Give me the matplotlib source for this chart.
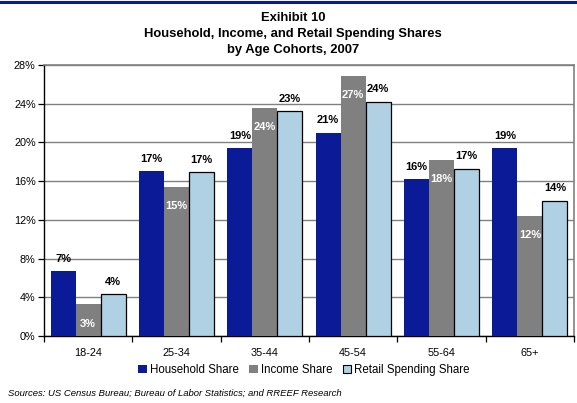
import numpy as np
import matplotlib
matplotlib.use("Agg")
import matplotlib.pyplot as plt
from matplotlib.lines import Line2D
from matplotlib.patches import Patch

plt.rcParams["font.family"] = ["Liberation Sans", "DejaVu Sans"]

cohorts = ["18-24", "25-34", "35-44", "45-54", "55-64", "65+"]
household = [6.7, 17.0, 19.4, 21.0, 16.2, 19.4]
income = [3.3, 15.4, 23.6, 26.9, 18.2, 12.4]
retail = [4.3, 16.9, 23.2, 24.2, 17.3, 14.0]
series_names = ["Household Share", "Income Share", "Retail Spending Share"]
yticks = [0, 4, 8, 12, 16, 20, 24, 28]

colors = ["#0B1A96", "#808080", "#AFD1E3"]

fig = plt.figure(figsize=(5.77, 4.03), dpi=100)
ax = fig.add_axes([44 / 577, 1 - 336 / 403, 530 / 577, 271 / 403])

# thin rule across the top of the page
fig.add_artist(Line2D([0, 1], [1 - 1.5 / 403] * 2, color="#0B1A96", lw=2.2,
                      transform=fig.transFigure))

x = np.arange(len(cohorts))
w = 0.283
b1 = ax.bar(x - w, household, w, color=colors[0], zorder=3)
b2 = ax.bar(x, income, w, color=colors[1], zorder=3)
b3 = ax.bar(x + w, retail, w, color=colors[2], edgecolor="black", lw=0.9, zorder=3)

for bars, vals, inside in [(b1, household, False), (b2, income, True), (b3, retail, False)]:
    for r, v in zip(bars, vals):
        cx = r.get_x() + r.get_width() / 2
        if inside:
            ax.annotate(f"{v:.0f}%", (cx, v), xytext=(0, -14), textcoords="offset points",
                        ha="center", va="center", fontsize=8, fontweight="bold",
                        color="white", zorder=4)
        else:
            ax.annotate(f"{v:.0f}%", (cx, v), xytext=(0, 9), textcoords="offset points",
                        ha="center", va="center", fontsize=8, fontweight="bold",
                        color="black", zorder=4)

ax.set_xlim(-0.5, len(cohorts) - 0.5)
ax.set_ylim(0, 28)
ax.set_yticks(yticks)
ax.set_yticklabels([f"{t}%" for t in yticks], fontsize=7.8)
ax.yaxis.grid(True, color="#808080", lw=1, zorder=0)
ax.tick_params(axis="y", direction="out", length=4, width=0.9, pad=2)

ax.set_xticks(x)
ax.set_xticklabels(cohorts, fontsize=7.8)
ax.tick_params(axis="x", which="major", length=0, pad=9)
ax.set_xticks(np.arange(-0.5, len(cohorts)), minor=True)
ax.tick_params(axis="x", which="minor", direction="out", length=4, width=0.9)

for side in ["left", "bottom"]:
    ax.spines[side].set_color("black")
    ax.spines[side].set_linewidth(1.0)
for side in ["top", "right"]:
    ax.spines[side].set_color("#808080")
    ax.spines[side].set_linewidth(1.2)

handles = [Patch(facecolor=colors[0]), Patch(facecolor=colors[1]),
           Patch(facecolor=colors[2], edgecolor="black", lw=0.8)]
fig.legend(handles, series_names, loc="center", bbox_to_anchor=(304 / 577, 1 - 370 / 403),
           ncol=3, frameon=False, fontsize=8.3, handlelength=0.75, handleheight=0.75,
           handletextpad=0.25, columnspacing=0.9, borderpad=0)

title_x = 293 / 577
fig.text(title_x, 1 - 18 / 403, "Exihibit 10", ha="center", va="center",
         fontsize=9.4, fontweight="bold")
fig.text(title_x, 1 - 34 / 403, "Household, Income, and Retail Spending Shares",
         ha="center", va="center", fontsize=9.4, fontweight="bold")
fig.text(title_x, 1 - 50 / 403, "by Age Cohorts, 2007", ha="center", va="center",
         fontsize=9.4, fontweight="bold")
fig.text(8 / 577, 1 - 393 / 403,
         "Sources: US Census Bureau; Bureau of Labor Statistics; and RREEF Research",
         ha="left", va="center", fontsize=6.8, style="italic")

fig.savefig("out.png", dpi=100)
